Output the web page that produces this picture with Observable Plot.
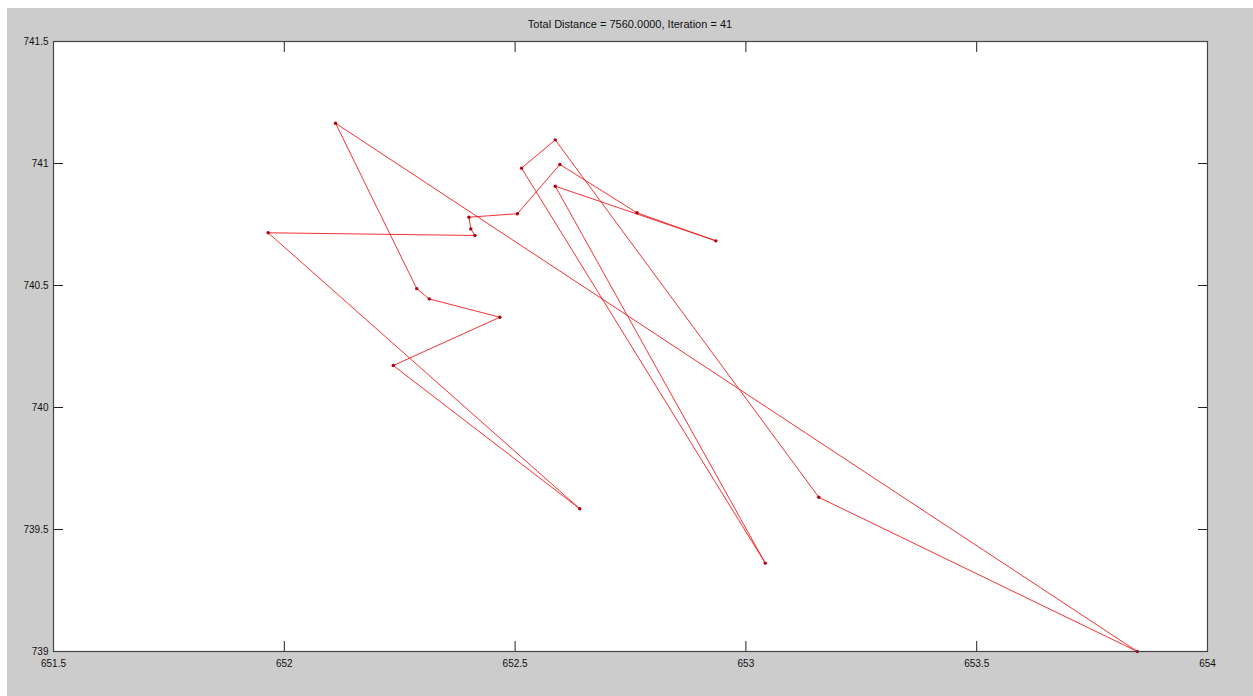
<!DOCTYPE html>
<html><head><meta charset="utf-8">
<script src="https://cdn.jsdelivr.net/npm/d3@7"></script>
<script src="https://cdn.jsdelivr.net/npm/@observablehq/plot@0.6"></script>
<style>
html,body{margin:0;padding:0;background:#fff;width:1253px;height:696px;overflow:hidden;}
#bg{position:absolute;left:7px;top:8px;right:0;bottom:0;background:#cccccc;}
#chart{position:absolute;left:0;top:0;}
#title{position:absolute;left:53px;width:1154px;top:18px;text-align:center;font:11px "Liberation Sans",Arial,sans-serif;color:#111;white-space:nowrap;}
</style></head><body>
<div id="bg"></div>
<div id="chart"></div>
<div id="title">Total Distance = 7560.0000, Iteration = 41</div>
<script>
// Tour order (closed route), city coordinates
const cityX = [652.111, 652.287, 652.314, 652.467, 652.236, 652.640, 651.965, 652.413, 652.404, 652.400,
               652.505, 652.597, 652.764, 652.935, 652.587, 653.042, 652.514, 652.587, 653.158, 653.848];
const cityY = [741.165, 740.487, 740.445, 740.370, 740.172, 739.585, 740.716, 740.705, 740.732, 740.780,
               740.794, 740.996, 740.798, 740.683, 740.907, 739.362, 740.981, 741.097, 739.632, 739.000];
const xTicks = [651.5, 652, 652.5, 653, 653.5, 654];
const xTickLabels = ["651.5", "652", "652.5", "653", "653.5", "654"];
const yTicks = [739, 739.5, 740, 740.5, 741, 741.5];
const yTickLabels = ["739", "739.5", "740", "740.5", "741", "741.5"];
const titleText = "Total Distance = 7560.0000, Iteration = 41";

const cities = cityX.map((x, i) => ({x, y: cityY[i]}));
const route = [...cities, cities[0]];
const xFmt = d => xTickLabels[xTicks.indexOf(d)];
const yFmt = d => yTickLabels[yTicks.indexOf(d)];
const font = "Liberation Sans, Arial, sans-serif";

const plot = Plot.plot({
  width: 1253,
  height: 696,
  marginLeft: 53,
  marginRight: 46,
  marginTop: 41,
  marginBottom: 45,
  style: {background: "none", fontFamily: font, fontSize: "10px", color: "#111"},
  x: {domain: [651.5, 654], ticks: xTicks, tickFormat: xFmt},
  y: {domain: [739, 741.5], ticks: yTicks, tickFormat: yFmt},
  marks: [
    Plot.frame({fill: "white", stroke: null}),
    Plot.axisX({anchor: "bottom", ticks: xTicks, tickFormat: xFmt, tickSize: 0, tickPadding: 8, label: null}),
    Plot.axisY({anchor: "left", ticks: yTicks, tickFormat: yFmt, tickSize: 0, tickPadding: 5, label: null}),
    Plot.axisX({anchor: "bottom", ticks: xTicks, text: null, tickSize: 10, dy: -10, stroke: "#222", label: null}),
    Plot.axisX({anchor: "top", ticks: xTicks, text: null, tickSize: 10, dy: 10, stroke: "#222", label: null}),
    Plot.axisY({anchor: "left", ticks: yTicks, text: null, tickSize: 10, dx: 10, stroke: "#222", label: null}),
    Plot.axisY({anchor: "right", ticks: yTicks, text: null, tickSize: 10, dx: -10, stroke: "#222", label: null}),
    Plot.line(route, {x: "x", y: "y", stroke: "#ee1c1c", strokeWidth: 0.9}),
    Plot.dot(cities, {x: "x", y: "y", r: 1.7, fill: "#b00010", stroke: null}),
    Plot.frame({stroke: "#444", strokeWidth: 1.2})
  ]
});
document.getElementById("chart").appendChild(plot);
document.getElementById("title").textContent = titleText;
</script>
</body></html>
